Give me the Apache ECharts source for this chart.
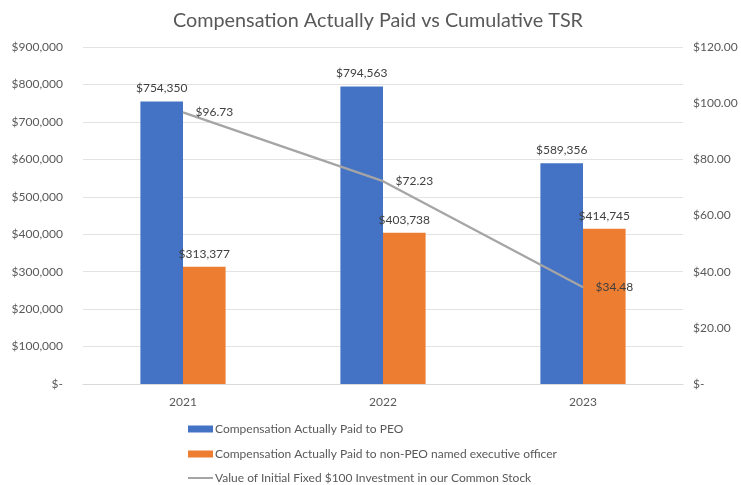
<!DOCTYPE html>
<html>
<head>
<meta charset="utf-8">
<script src="https://cdn.jsdelivr.net/npm/echarts@6/dist/echarts.min.js"></script>
<style>html,body{margin:0;padding:0;background:#fff;}#c{width:741px;height:485px;}</style>
</head>
<body>
<div id="c"></div>
<script>
const categories = ['2021', '2022', '2023'];
const peoValues = [754350, 794563, 589356];
const nonPeoValues = [313377, 403738, 414745];
const tsrValues = [96.73, 72.23, 34.48];
const seriesNames = [
  'Compensation Actually Paid to PEO',
  'Compensation Actually Paid to non-PEO named executive officer',
  'Value of Initial Fixed $100 Investment in our Common Stock'
];
const titleText = 'Compensation Actually Paid vs Cumulative TSR';

const FONT = 'Lato';
const fmtMoney = v => '$' + Math.round(v).toLocaleString('en-US');
const legendText = {fontFamily: FONT, fontSize: 12, color: '#595959', padding: [0, 0, 0, -3]};

const chart = echarts.init(document.getElementById('c'), null, {renderer: 'canvas'});
chart.setOption({
  animation: false,
  backgroundColor: '#fff',
  textStyle: {fontFamily: FONT},
  title: {
    text: titleText,
    left: 173,
    top: 6,
    padding: [5, 0, 5, 0],
    textStyle: {fontFamily: FONT, fontSize: 19.8, fontWeight: 'normal', color: '#595959'}
  },
  legend: [
    {left: 183, top: 418, itemWidth: 25, itemHeight: 7, textStyle: legendText,
      data: [{name: seriesNames[0], icon: 'rect'}]},
    {left: 183, top: 443, itemWidth: 25, itemHeight: 7, textStyle: legendText,
      data: [{name: seriesNames[1], icon: 'rect'}]},
    {left: 183, top: 467, itemWidth: 25, itemHeight: 2, textStyle: legendText,
      data: [{name: seriesNames[2], icon: 'rect'}]}
  ],
  grid: {left: 83, right: 58, top: 47, bottom: 101},
  xAxis: {
    type: 'category',
    data: categories,
    axisTick: {show: false},
    axisLine: {lineStyle: {color: '#d9d9d9'}},
    axisLabel: {fontFamily: FONT, fontSize: 12, color: '#595959', margin: 12}
  },
  yAxis: [
    {
      type: 'value', min: 0, max: 900000, interval: 100000,
      axisLine: {show: false}, axisTick: {show: false},
      splitLine: {lineStyle: {color: '#e3e3e3'}},
      axisLabel: {fontFamily: FONT, fontSize: 12, color: '#595959', margin: 20,
        formatter: v => v === 0 ? '$-' : fmtMoney(v)}
    },
    {
      type: 'value', min: 0, max: 120, interval: 20,
      axisLine: {show: false}, axisTick: {show: false},
      splitLine: {show: false},
      axisLabel: {fontFamily: FONT, fontSize: 12, color: '#595959', margin: 10,
        formatter: v => v === 0 ? '$-' : '$' + v.toFixed(2)}
    }
  ],
  series: [
    {
      name: seriesNames[0], type: 'bar', data: peoValues,
      barWidth: '21.3%', barGap: '0%',
      itemStyle: {color: '#4472C4'},
      label: {show: true, position: 'top', distance: 7, fontFamily: FONT, fontSize: 12, color: '#404040',
        formatter: p => fmtMoney(p.value)}
    },
    {
      name: seriesNames[1], type: 'bar', data: nonPeoValues,
      barWidth: '21.3%', barGap: '0%',
      itemStyle: {color: '#ED7D31'},
      label: {show: true, position: 'top', distance: 7, fontFamily: FONT, fontSize: 12, color: '#404040',
        formatter: p => fmtMoney(p.value)}
    },
    {
      name: seriesNames[2], type: 'line', data: tsrValues, yAxisIndex: 1,
      symbol: 'circle', symbolSize: 1, showSymbol: true, z: 5,
      lineStyle: {color: '#A5A5A5', width: 2.25},
      itemStyle: {color: '#A5A5A5'},
      label: {show: true, position: 'right', distance: 12, fontFamily: FONT, fontSize: 12, color: '#404040',
        formatter: p => '$' + p.value.toFixed(2)}
    }
  ]
});
</script>
</body>
</html>
